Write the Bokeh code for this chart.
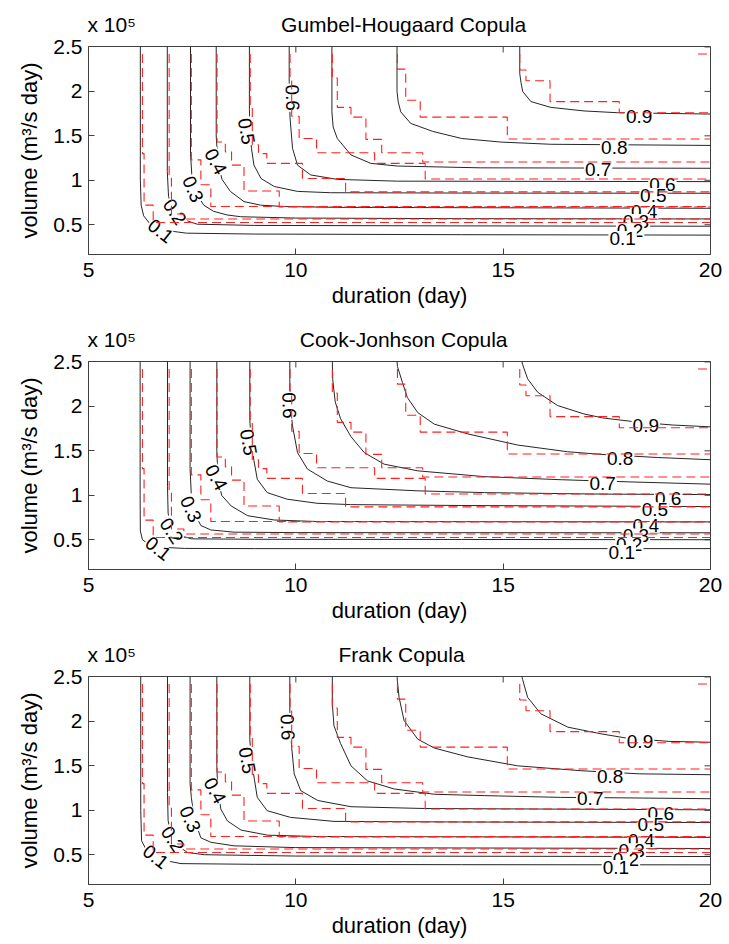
from bokeh.plotting import figure
from bokeh.models import Range1d, LinearAxis, FixedTicker
from bokeh.layouts import column
from bokeh.core.properties import value
from bokeh.embed import file_html
from bokeh.resources import INLINE

FONT = "Liberation Sans"

# ---------------- data (volume in units of 1e5 m^3/s day) ----------------
levels = ["0.1", "0.2", "0.3", "0.4", "0.5", "0.6", "0.7", "0.8", "0.9"]
x_ticks = [5, 10, 15, 20]
y_ticks = [0.5, 1.0, 1.5, 2.0, 2.5]
y_tick_labels = ["0.5", "1", "1.5", "2", "2.5"]
x_lim = [5, 20]
y_lim = [0.165, 2.505]

titles = ["Gumbel-Hougaard Copula", "Cook-Jonhson Copula", "Frank Copula"]
title_x = [12.6, 12.6, 12.55]
exponent_text = "x 10\u2075"
exponent_x = 5.56

# Gumbel-Hougaard copula contours (one list per level 0.1 ... 0.9)
gumbel_xs = [
    [6.25, 6.25, 6.27, 6.33, 6.5, 6.8, 7.36, 9.0, 14.0, 20.0],
    [6.9, 6.9, 6.93, 7.0, 7.15, 7.42, 7.62, 9.0, 14.0, 20.0],
    [7.46, 7.46, 7.5, 7.6, 7.78, 8.02, 8.34, 8.67, 10.0, 14.0, 20.0],
    [8.08, 8.08, 8.12, 8.22, 8.42, 8.75, 9.15, 9.71, 11.0, 20.0],
    [8.88, 8.88, 8.9, 8.93, 8.99, 9.16, 9.48, 10.04, 10.84, 14.0, 20.0],
    [9.84, 9.84, 9.85, 9.86, 9.92, 10.04, 10.36, 11.0, 12.45, 20.0],
    [10.87, 10.87, 10.9, 11.0, 11.33, 11.81, 12.45, 14.46, 20.0],
    [12.44, 12.44, 12.47, 12.53, 12.77, 13.3, 14.0, 14.94, 16.15, 20.0],
    [15.4, 15.4, 15.43, 15.47, 15.67, 16.15, 16.95, 17.76, 20.0],
]
gumbel_ys = [
    [2.51, 1.0, 0.72, 0.6, 0.5, 0.44, 0.405, 0.395, 0.388, 0.383],
    [2.51, 1.1, 0.82, 0.7, 0.6, 0.537, 0.506, 0.492, 0.487, 0.483],
    [2.51, 1.3, 1.0, 0.85, 0.72, 0.65, 0.61, 0.59, 0.575, 0.568, 0.565],
    [2.51, 1.5, 1.2, 1.01, 0.875, 0.76, 0.72, 0.705, 0.695, 0.685],
    [2.51, 1.8, 1.5, 1.36, 1.17, 1.02, 0.93, 0.875, 0.86, 0.856, 0.854],
    [2.51, 2.11, 1.9, 1.705, 1.36, 1.17, 1.06, 1.01, 0.99, 0.985],
    [2.51, 1.77, 1.6, 1.47, 1.285, 1.19, 1.16, 1.14, 1.135],
    [2.51, 2.0, 1.88, 1.77, 1.64, 1.55, 1.47, 1.43, 1.405, 1.392],
    [2.51, 2.2, 2.1, 2.0, 1.885, 1.82, 1.78, 1.76, 1.745],
]

# Cook-Johnson copula contours
cook_xs = [
    [6.245, 6.245, 6.25, 6.3, 6.45, 6.75, 7.32, 9.0, 14.0, 20.0],
    [6.905, 6.905, 6.92, 6.98, 7.12, 7.48, 9.0, 14.0, 20.0],
    [7.45, 7.45, 7.48, 7.55, 7.71, 7.95, 8.51, 10.0, 20.0],
    [8.095, 8.095, 8.12, 8.21, 8.44, 8.84, 9.48, 10.5, 20.0],
    [8.89, 8.89, 8.92, 8.99, 9.07, 9.31, 9.79, 10.51, 11.32, 14.0, 20.0],
    [9.855, 9.855, 9.87, 9.92, 10.04, 10.28, 10.76, 11.33, 12.94, 14.55, 17.36, 20.0],
    [10.88, 10.89, 10.95, 11.08, 11.33, 11.65, 12.13, 12.94, 14.54, 16.4, 18.08, 20.0],
    [12.44, 12.45, 12.57, 12.69, 12.94, 13.34, 14.15, 15.35, 16.55, 17.36, 18.72, 20.0],
    [15.45, 15.47, 15.59, 15.83, 16.31, 16.95, 17.4, 18.3, 19.1, 20.0],
]
cook_ys = [
    [2.51, 1.0, 0.6, 0.5, 0.45, 0.415, 0.402, 0.4, 0.4, 0.4],
    [2.51, 1.1, 0.8, 0.65, 0.56, 0.51, 0.505, 0.503, 0.5],
    [2.51, 1.3, 1.0, 0.8, 0.66, 0.61, 0.585, 0.58, 0.578],
    [2.51, 1.5, 1.2, 1.0, 0.88, 0.77, 0.722, 0.705, 0.7],
    [2.51, 1.86, 1.6, 1.39, 1.18, 1.03, 0.956, 0.91, 0.895, 0.885, 0.873],
    [2.51, 2.2, 2.0, 1.78, 1.48, 1.295, 1.16, 1.085, 1.05, 1.03, 1.013, 1.008],
    [2.51, 2.3, 2.05, 1.86, 1.66, 1.48, 1.35, 1.275, 1.21, 1.175, 1.15, 1.125],
    [2.51, 2.45, 2.27, 2.1, 1.93, 1.8, 1.69, 1.565, 1.49, 1.46, 1.425, 1.4],
    [2.51, 2.47, 2.31, 2.16, 2.01, 1.915, 1.87, 1.82, 1.79, 1.77],
]

# Frank copula contours
frank_xs = [
    [6.26, 6.26, 6.28, 6.4, 6.6, 6.9, 7.23, 9.0, 14.0, 20.0],
    [6.905, 6.905, 6.92, 7.0, 7.15, 7.39, 7.8, 10.0, 20.0],
    [7.45, 7.45, 7.48, 7.55, 7.71, 7.95, 8.51, 10.0, 20.0],
    [8.095, 8.095, 8.11, 8.19, 8.35, 8.68, 9.32, 10.5, 20.0],
    [8.89, 8.89, 8.93, 9.0, 9.07, 9.31, 9.87, 10.92, 14.0, 20.0],
    [9.855, 9.855, 9.87, 9.9, 9.96, 10.12, 10.53, 11.33, 13.1, 20.0],
    [10.88, 10.88, 10.92, 11.08, 11.33, 11.73, 12.37, 13.34, 14.55, 16.39, 17.84, 20.0],
    [12.44, 12.45, 12.49, 12.61, 12.94, 13.34, 14.15, 15.35, 16.88, 18.28, 20.0],
    [15.45, 15.47, 15.59, 15.91, 16.56, 17.36, 18.0, 19.0, 20.0],
]
frank_ys = [
    [2.51, 1.0, 0.657, 0.55, 0.48, 0.43, 0.4, 0.392, 0.388, 0.386],
    [2.51, 1.2, 0.882, 0.72, 0.6, 0.525, 0.5, 0.485, 0.48],
    [2.51, 1.3, 1.145, 0.9, 0.69, 0.64, 0.6, 0.58, 0.57],
    [2.51, 1.5, 1.3, 1.015, 0.88, 0.777, 0.72, 0.705, 0.695],
    [2.51, 1.8, 1.55, 1.35, 1.145, 0.995, 0.92, 0.875, 0.868, 0.862],
    [2.51, 2.12, 1.9, 1.71, 1.41, 1.22, 1.11, 1.04, 1.02, 1.005],
    [2.51, 2.2, 1.95, 1.75, 1.5, 1.33, 1.24, 1.18, 1.165, 1.145, 1.14, 1.13],
    [2.51, 2.45, 2.27, 2.01, 1.8, 1.7, 1.6, 1.5, 1.445, 1.41, 1.4],
    [2.51, 2.47, 2.27, 2.085, 1.935, 1.86, 1.81, 1.775, 1.765],
]

# empirical (observed) joint probability contours, same in every panel
emp_xs = [
    [6.30, 6.30, 6.34, 6.34, 6.56, 6.56, 20.0],
    [6.945, 6.945, 7.0, 7.0, 7.3, 7.3, 20.0],
    [7.48, 7.48, 7.71, 7.71, 7.95, 7.95, 20.0],
    [8.1, 8.1, 8.3, 8.3, 8.45, 8.45, 8.75, 8.75, 9.6, 9.6, 20.0],
    [8.9, 8.9, 8.95, 8.95, 9.1, 9.1, 9.3, 9.3, 10.16, 10.16, 11.2, 11.2, 20.0],
    [9.86, 9.86, 9.9, 9.9, 10.08, 10.08, 10.5, 10.5, 11.9, 11.9, 13.12, 13.12, 20.0],
    [10.88, 10.88, 11.0, 11.0, 11.33, 11.33, 11.69, 11.69, 12.07, 12.07, 13.06, 13.06, 20.0],
    [12.45, 12.45, 12.65, 12.65, 13.0, 13.0, 15.1, 15.1, 20.0],
    [15.4, 15.4, 15.55, 15.55, 16.13, 16.13, 17.8, 17.8, 20.0],
    [19.7, 20.0],
]
emp_ys = [
    [2.42, 1.30, 1.30, 0.72, 0.72, 0.525, 0.525],
    [2.42, 1.06, 1.06, 0.62, 0.62, 0.565, 0.565],
    [2.42, 1.23, 1.23, 0.95, 0.95, 0.705, 0.705],
    [2.42, 1.43, 1.43, 1.32, 1.32, 1.17, 1.17, 0.88, 0.88, 0.70, 0.70],
    [2.42, 1.85, 1.85, 1.40, 1.40, 1.30, 1.30, 1.19, 1.19, 1.02, 1.02, 0.87, 0.87],
    [2.42, 2.17, 2.17, 1.72, 1.72, 1.47, 1.47, 1.31, 1.31, 1.19, 1.19, 1.015, 1.015],
    [2.42, 2.15, 2.15, 1.82, 1.82, 1.71, 1.71, 1.46, 1.46, 1.31, 1.31, 1.205, 1.205],
    [2.42, 2.25, 2.25, 1.90, 1.90, 1.71, 1.71, 1.465, 1.465],
    [2.42, 2.24, 2.24, 2.12, 2.12, 1.885, 1.885, 1.76, 1.76],
    [2.42, 2.42],
]

# contour labels: corner labels (0.1-0.6) then right labels (0.9 ... 0.1)
label_text = ["0.1", "0.2", "0.3", "0.4", "0.5", "0.6",
              "0.9", "0.8", "0.7", "0.6", "0.5", "0.4", "0.3", "0.2", "0.1"]
label_angle = [-38, -56, -66, -62, -80, -88, 0, 0, 0, 0, 0, 0, 0, 0, 0]
gumbel_lx = [6.74, 7.08, 7.52, 8.07, 8.81, 9.92, 18.28, 17.68, 17.29, 18.84, 18.62, 18.4, 18.2, 18.06, 17.88]
gumbel_ly = [0.428, 0.645, 0.90, 1.21, 1.55, 1.93, 1.72, 1.37, 1.12, 0.955, 0.83, 0.65, 0.535, 0.44, 0.345]
cook_lx = [6.68, 7.0, 7.47, 8.08, 8.86, 9.84, 18.44, 17.82, 17.4, 18.98, 18.66, 18.44, 18.2, 18.04, 17.86]
cook_ly = [0.40, 0.60, 0.844, 1.20, 1.595, 2.01, 1.78, 1.415, 1.133, 0.963, 0.836, 0.664, 0.543, 0.45, 0.355]
frank_lx = [6.62, 7.03, 7.45, 8.05, 8.83, 9.8, 18.3, 17.58, 17.1, 18.8, 18.56, 18.33, 18.1, 17.96, 17.72]
frank_ly = [0.476, 0.676, 0.90, 1.22, 1.56, 1.935, 1.776, 1.378, 1.127, 0.965, 0.837, 0.657, 0.544, 0.45, 0.356]

panel_xs = [gumbel_xs, cook_xs, frank_xs]
panel_ys = [gumbel_ys, cook_ys, frank_ys]
panel_lx = [gumbel_lx, cook_lx, frank_lx]
panel_ly = [gumbel_ly, cook_ly, frank_ly]

AX = "#404040"


def style_axis(ax, size):
    ax.major_tick_in = 6
    ax.major_tick_out = 0
    ax.minor_tick_line_color = None
    ax.axis_line_color = AX
    ax.major_tick_line_color = AX
    ax.major_label_text_font = FONT
    ax.major_label_text_color = "black"
    ax.major_label_text_font_size = size
    ax.axis_label_text_font = FONT
    ax.axis_label_text_font_style = "normal"
    ax.axis_label_text_font_size = "22px"
    ax.axis_label_text_color = "black"


def make_panel(i, height):
    p = figure(width=729, height=height, output_backend="svg", toolbar_location=None,
               x_range=Range1d(x_lim[0], x_lim[1]), y_range=Range1d(y_lim[0], y_lim[1]),
               min_border_left=88, min_border_right=19, min_border_top=46,
               min_border_bottom=height - 46 - 208)
    p.grid.visible = False
    p.outline_line_color = AX
    p.background_fill_color = "white"
    p.border_fill_color = "white"

    p.xaxis.ticker = FixedTicker(ticks=x_ticks)
    p.yaxis.ticker = FixedTicker(ticks=y_ticks)
    p.yaxis.major_label_overrides = {t: s for t, s in zip(y_ticks, y_tick_labels)}
    style_axis(p.xaxis[0], "21px")
    style_axis(p.yaxis[0], "21px")
    p.xaxis.axis_label = "duration (day)"
    p.yaxis.axis_label = "volume (m\u00b3/s day)"
    p.xaxis.major_label_standoff = 8
    p.xaxis.axis_label_standoff = 3
    p.yaxis.major_label_standoff = 6
    p.yaxis.axis_label_standoff = 8

    # header line above the frame: exponent marker and panel title
    head = LinearAxis(ticker=FixedTicker(ticks=[exponent_x, title_x[i]]))
    style_axis(head, "21px")
    head.major_label_overrides = {exponent_x: exponent_text, title_x[i]: titles[i]}
    head.major_tick_line_color = None
    head.axis_line_color = None
    head.major_label_standoff = 11
    p.add_layout(head, "above")

    # inward ticks on the top and right edges of the box
    p.ray(x=x_ticks, y=[y_lim[1]] * len(x_ticks), length=6, length_units="screen",
          angle=-90, angle_units="deg", line_color=AX, line_width=1)
    p.ray(x=[x_lim[1]] * len(y_ticks), y=y_ticks, length=6, length_units="screen",
          angle=180, angle_units="deg", line_color=AX, line_width=1)

    # model contours
    p.multi_line(panel_xs[i], panel_ys[i], line_color="#262626", line_width=1)
    # contour labels
    p.text(x=panel_lx[i], y=panel_ly[i], text=label_text, angle=label_angle, angle_units="deg",
           text_font=value(FONT), text_font_size="19px", text_color="black",
           text_align="center", text_baseline="middle",
           background_fill_color="white", padding=1)
    # empirical contours
    p.multi_line(emp_xs, emp_ys, line_color="#ff2020", line_width=1.1, line_dash="9 5")
    return p


panels = [make_panel(0, 315), make_panel(1, 315), make_panel(2, 314)]
layout = column(*panels, spacing=0)
open("out.html", "w").write(file_html(layout, INLINE))
